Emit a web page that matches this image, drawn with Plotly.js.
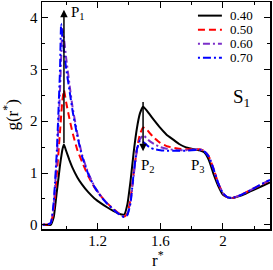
<!DOCTYPE html>
<html>
<head>
<meta charset="utf-8">
<script src="https://cdn.plot.ly/plotly-3.0.1.min.js"></script>
<style>html,body{margin:0;padding:0;background:#fff;}#chart{width:273px;height:270px;}</style>
</head>
<body>
<div id="chart"></div>
<script>
// r* grid shared by all series
const rStar = [0.85, 0.90, 0.92, 0.94, 0.96, 0.967, 0.975, 0.985, 1.00, 1.02, 1.04, 1.07, 1.10, 1.14, 1.18, 1.22, 1.26, 1.30, 1.34, 1.37, 1.39, 1.41, 1.43, 1.45, 1.47, 1.49, 1.51, 1.53, 1.56, 1.60, 1.64, 1.68, 1.72, 1.76, 1.80, 1.85, 1.88, 1.91, 1.94, 1.97, 2.00, 2.03, 2.06, 2.10, 2.15, 2.20, 2.25, 2.30];
const g040 = [0, 0.00, 0.15, 0.65, 1.15, 1.30, 1.45, 1.55, 1.42, 1.25, 1.10, 0.92, 0.78, 0.63, 0.51, 0.42, 0.34, 0.27, 0.21, 0.20, 0.40, 0.85, 1.40, 1.85, 2.15, 2.28, 2.22, 2.14, 2.02, 1.87, 1.74, 1.65, 1.56, 1.50, 1.47, 1.44, 1.40, 1.25, 0.98, 0.75, 0.58, 0.53, 0.52, 0.55, 0.61, 0.68, 0.75, 0.82];
const g050 = [0, 0.02, 0.30, 1.00, 1.80, 2.10, 2.40, 2.60, 2.35, 2.05, 1.78, 1.45, 1.22, 0.94, 0.72, 0.56, 0.42, 0.31, 0.21, 0.16, 0.22, 0.50, 1.00, 1.45, 1.75, 1.88, 1.85, 1.78, 1.68, 1.58, 1.52, 1.49, 1.47, 1.46, 1.46, 1.46, 1.43, 1.32, 1.08, 0.80, 0.61, 0.53, 0.52, 0.56, 0.63, 0.71, 0.78, 0.86];
const g060 = [0, 0.03, 0.40, 1.30, 2.60, 3.20, 3.78, 3.60, 3.20, 2.72, 2.27, 1.77, 1.36, 1.00, 0.74, 0.56, 0.42, 0.30, 0.20, 0.15, 0.20, 0.45, 0.95, 1.42, 1.65, 1.73, 1.68, 1.62, 1.56, 1.50, 1.47, 1.45, 1.44, 1.44, 1.45, 1.46, 1.43, 1.32, 1.08, 0.80, 0.61, 0.53, 0.52, 0.56, 0.63, 0.71, 0.79, 0.87];
const g070 = [0, 0.03, 0.45, 1.45, 3.00, 3.88, 3.65, 3.35, 3.00, 2.60, 2.20, 1.72, 1.33, 0.98, 0.73, 0.55, 0.41, 0.30, 0.20, 0.15, 0.19, 0.42, 1.00, 1.45, 1.63, 1.60, 1.55, 1.50, 1.46, 1.44, 1.43, 1.43, 1.43, 1.43, 1.44, 1.45, 1.42, 1.31, 1.07, 0.80, 0.61, 0.53, 0.52, 0.56, 0.63, 0.71, 0.79, 0.87];
const seriesNames = ["0.40", "0.50", "0.60", "0.70"];
const xTickVals = [1.2, 1.6, 2.0];
const xTickText = ["1.2", "1.6", "2"];
const yTickVals = [0, 1, 2, 3, 4];
const yTickText = ["0", "1", "2", "3", "4"];
const xTitle = "r<sup>*</sup>";
const yTitle = "g(r<sup>*</sup>)";

const FONT = "Liberation Serif, serif";
const styles = [
  {color: "#000000", dash: "solid", width: 2},
  {color: "#ff0000", dash: "7px,4px", width: 2},
  {color: "#7b2fc9", dash: "2px,3px,7px,3px", width: 2},
  {color: "#0000ff", dash: "2px,3px,8px,3px", width: 2}
];
const ys = [g040, g050, g060, g070];
const traces = ys.map((g, i) => ({
  x: rStar, y: g, name: seriesNames[i], type: "scatter", mode: "lines", showlegend: false,
  line: {color: styles[i].color, dash: styles[i].dash, width: styles[i].width, shape: "spline", smoothing: 0.4}
}));

// arrows anchored on the 0.40 curve's peaks
function peakIdx(arr, lo, hi) { let b = -1; for (let i = 0; i < rStar.length; i++) { if (rStar[i] >= lo && rStar[i] <= hi && (b < 0 || arr[i] > arr[b])) b = i; } return b; }
const p1 = peakIdx(g040, 0.9, 1.2), p2 = peakIdx(g040, 1.4, 1.7);

// compact legend (paper coordinates)
const legShapes = [], legAnn = [];
const legTop = 0.94, legStep = 0.062;
seriesNames.forEach((n, i) => {
  const yy = legTop - i * legStep;
  legShapes.push({type: "line", xref: "paper", yref: "paper", x0: 0.684, x1: 0.789, y0: yy, y1: yy,
    line: {color: styles[i].color, dash: styles[i].dash, width: styles[i].width}});
  legAnn.push({xref: "paper", yref: "paper", x: 0.815, y: yy, xanchor: "left", yanchor: "middle",
    text: n, showarrow: false, font: {family: FONT, size: 13, color: "#000"}});
});

const layout = {
  width: 273, height: 270,
  margin: {l: 42, r: 3, t: 2, b: 41},
  paper_bgcolor: "#fff", plot_bgcolor: "#fff",
  font: {family: FONT, size: 15, color: "#000"},
  showlegend: false,
  xaxis: {
    range: [0.845, 2.30], tickvals: xTickVals, ticktext: xTickText,
    ticks: "inside", ticklen: 6, tickwidth: 1, tickcolor: "#000", ticklabelstandoff: -3,
    minor: {dtick: 0.2, tick0: 1.0, ticks: "inside", ticklen: 3, tickcolor: "#000"},
    showline: true, linecolor: "#000", linewidth: 1.5, mirror: "ticks",
    showgrid: false, zeroline: false,
    tickfont: {family: FONT, size: 15}
  },
  yaxis: {
    range: [-0.08, 4.30], tickvals: yTickVals, ticktext: yTickText,
    ticks: "inside", ticklen: 6, tickwidth: 1, tickcolor: "#000",
    minor: {dtick: 0.5, tick0: 0, ticks: "inside", ticklen: 3, tickcolor: "#000"},
    showline: true, linecolor: "#000", linewidth: 1.5, mirror: "ticks",
    showgrid: false, zeroline: false,
    tickfont: {family: FONT, size: 15}
  },
  shapes: legShapes,
  annotations: legAnn.concat([
    {xref: "paper", yref: "paper", x: 0.51, y: -0.132, xanchor: "center", yanchor: "middle", text: xTitle, showarrow: false, font: {family: FONT, size: 17}},
    {xref: "paper", yref: "paper", x: -0.14, y: 0.5, xanchor: "center", yanchor: "middle", textangle: -90, text: yTitle, showarrow: false, font: {family: FONT, size: 17}},
    {x: rStar[p1], y: 4.15, ax: rStar[p1], ay: g040[p1], xref: "x", yref: "y", axref: "x", ayref: "y", text: "", showarrow: true, arrowhead: 2, arrowsize: 1, arrowwidth: 1.5, arrowcolor: "#000"},
    {x: rStar[p1] + 0.03, y: 4.08, xref: "x", yref: "y", text: "P<sub>1</sub>", showarrow: false, xanchor: "left", font: {family: FONT, size: 15}},
    {x: rStar[p2], y: 1.42, ax: rStar[p2], ay: g040[p2] + 0.12, xref: "x", yref: "y", axref: "x", ayref: "y", text: "", showarrow: true, arrowhead: 2, arrowsize: 1, arrowwidth: 1.5, arrowcolor: "#000"},
    {x: 1.52, y: 1.13, xref: "x", yref: "y", text: "P<sub>2</sub>", showarrow: false, font: {family: FONT, size: 15}},
    {x: 1.84, y: 1.13, xref: "x", yref: "y", text: "P<sub>3</sub>", showarrow: false, font: {family: FONT, size: 15}},
    {x: 2.12, y: 2.45, xref: "x", yref: "y", text: "S<sub>1</sub>", showarrow: false, font: {family: FONT, size: 19}}
  ])
};
Plotly.newPlot("chart", traces, layout, {displayModeBar: false, staticPlot: true});
</script>
</body>
</html>
